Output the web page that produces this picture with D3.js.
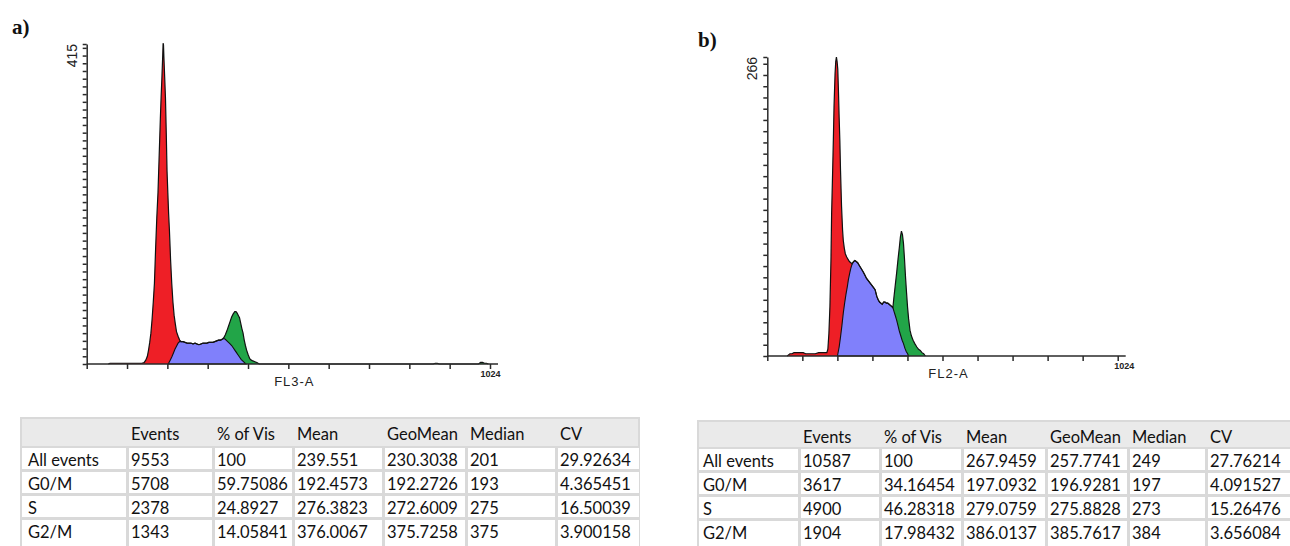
<!DOCTYPE html>
<html>
<head>
<meta charset="utf-8">
<script src="https://cdn.jsdelivr.net/npm/d3@7"></script>
<style>
  html, body { margin: 0; padding: 0; background: #fff; }
  svg { display: block; }
</style>
</head>
<body>
<script>
// ---------- Panel a: FL3-A histogram (channel, count) ----------
const channelsA = [55, 59, 80, 100, 120, 140, 146, 150, 154, 157, 160, 163, 166, 169, 172, 175, 178, 181, 184, 187, 189, 191, 193, 194, 195, 196, 198, 200, 202, 204, 206, 208, 210, 213, 216, 219, 222, 225, 228, 232, 236, 240, 245, 250, 255, 260, 265, 270, 275, 280, 285, 290, 295, 300, 305, 310, 315, 320, 325, 330, 335, 340, 344, 348, 352, 356, 360, 364, 368, 372, 376, 379, 382, 385, 388, 391, 394, 397, 400, 403, 406, 410, 414, 418, 422, 427, 432, 438, 880, 885, 890, 895, 995, 1000, 1005, 1010, 1015, 1020];
const countsA   = [0, 1, 1, 1, 1, 1, 2, 5, 10, 18, 28, 40, 58, 80, 105, 150, 190, 222, 270, 318, 347, 372, 400, 416, 414, 398, 372, 345, 300, 250, 222, 195, 174, 135, 104, 80, 63, 52, 42, 36, 31, 29, 29, 28, 27, 27, 27, 26, 27, 26, 25, 26, 27, 27, 27, 28, 28, 28, 29, 30, 31, 31, 32, 34, 38, 43, 49, 55, 61, 65, 68, 68, 66, 63, 60, 53, 46, 40, 31, 24, 18, 12, 7, 5, 4, 3, 2, 0, 0, 1, 1, 0, 0, 2, 2, 1, 1, 0];
// S-phase component
const sChannelsA = [207, 212, 216, 220, 224, 228, 232, 236, 240, 245, 250, 255, 260, 265, 270, 275, 280, 285, 290, 295, 300, 305, 310, 315, 320, 325, 330, 335, 340, 344, 348, 352, 356, 360, 364, 368, 372, 376, 380, 384, 388, 392, 396, 400, 404];
const sCountsA   = [0, 5, 9, 14, 19, 23, 27, 29, 29, 29, 28, 27, 27, 27, 26, 27, 26, 25, 26, 27, 27, 27, 28, 28, 28, 29, 30, 31, 31, 32, 33, 32, 30, 28, 26, 24, 21, 18, 15, 12, 9, 6, 4, 2, 0];
const gatesA = [240, 348];   // G0 ends / G2 begins (channel)
const maxA = 415;

// ---------- Panel b: FL2-A histogram ----------
const channelsB = [58, 62, 66, 72, 78, 85, 95, 105, 112, 120, 130, 140, 150, 160, 168, 174, 177, 180, 183, 186, 188, 191, 193, 195, 198, 200, 202, 204, 206, 208, 210, 212, 214, 217, 220, 222, 225, 228, 232, 236, 240, 244, 248, 252, 256, 260, 264, 268, 272, 276, 280, 285, 290, 295, 300, 305, 310, 315, 320, 324, 328, 332, 336, 340, 344, 348, 352, 356, 360, 364, 367, 370, 374, 378, 382, 386, 389, 392, 395, 398, 401, 404, 407, 410, 413, 417, 421, 426, 431, 437, 442, 447, 452, 457, 462];
const countsB   = [0, 1, 2, 2, 3, 3, 3, 3, 2, 2, 2, 2, 3, 3, 3, 3, 6, 20, 44, 85, 127, 165, 192, 222, 251, 262, 266, 262, 255, 235, 212, 192, 165, 133, 112, 103, 96, 91, 88, 86, 84, 83, 82, 84, 85, 84, 83, 81, 79, 77, 75, 72, 69, 67, 65, 63, 61, 59, 53, 50, 48, 47, 46, 48, 48, 47, 47, 46, 45, 44, 43, 52, 63, 74, 86, 97, 106, 111, 108, 100, 86, 70, 56, 43, 33, 23, 18, 14, 11, 8, 6, 5, 3, 2, 0];
const sChannelsB = [205, 210, 214, 218, 222, 226, 230, 234, 237, 241, 244, 248, 252, 256, 260, 264, 268, 272, 276, 280, 285, 290, 295, 300, 305, 310, 315, 320, 324, 328, 332, 336, 340, 344, 348, 352, 356, 360, 364, 367, 370, 374, 378, 382, 386, 390, 394, 398, 402, 406, 410, 413];
const sCountsB   = [0, 8, 17, 27, 38, 47, 55, 62, 68, 74, 78, 82, 84, 85, 84, 83, 81, 79, 77, 75, 72, 69, 67, 65, 63, 61, 59, 53, 50, 48, 47, 46, 48, 48, 47, 47, 46, 45, 44, 43, 40, 36, 32, 27, 22, 18, 14, 11, 7, 4, 2, 0];
const gatesB = [248, 367];
const maxB = 266;

// ---------- Statistics tables ----------
const statHeaders = ["", "Events", "% of Vis", "Mean", "GeoMean", "Median", "CV"];
const rowLabels = ["All events", "G0/M", "S", "G2/M"];
const statsA = [
  ["9553", "100", "239.551", "230.3038", "201", "29.92634"],
  ["5708", "59.75086", "192.4573", "192.2726", "193", "4.365451"],
  ["2378", "24.8927", "276.3823", "272.6009", "275", "16.50039"],
  ["1343", "14.05841", "376.0067", "375.7258", "375", "3.900158"]
];
const statsB = [
  ["10587", "100", "267.9459", "257.7741", "249", "27.76214"],
  ["3617", "34.16454", "197.0932", "196.9281", "197", "4.091527"],
  ["4900", "46.28318", "279.0759", "275.8828", "273", "15.26476"],
  ["1904", "17.98432", "386.0137", "385.7617", "384", "3.656084"]
];

const COLORS = { g0: "#ee1f26", s: "#8080fb", g2: "#22a548", line: "#111", axis: "#2a2a2a" };

const svg = d3.select("body").append("svg")
  .attr("width", 1290).attr("height", 546)
  .style("font-family", "'Liberation Sans', Arial, sans-serif");

function drawHistogram(cfg) {
  const g = svg.append("g");
  const x = d3.scaleLinear().domain([0, 1024]).range([cfg.x0, cfg.x1]);
  const y = d3.scaleLinear().domain([0, cfg.max]).range([cfg.yBase, cfg.yTop]);

  const hist = cfg.channels.map((c, i) => [c, cfg.counts[i]]);
  const sPhase = cfg.sChannels.map((c, i) => [c, cfg.sCounts[i]]);

  const area = d3.area().x(d => x(d[0])).y0(y(0)).y1(d => y(d[1]));
  const line = d3.line().x(d => x(d[0])).y(d => y(d[1]));

  // clip regions per gate
  const regions = [
    { id: cfg.id + "-g0", from: 0, to: cfg.gates[0], fill: COLORS.g0 },
    { id: cfg.id + "-s", from: cfg.gates[0], to: cfg.gates[1], fill: COLORS.s },
    { id: cfg.id + "-g2", from: cfg.gates[1], to: 1024, fill: COLORS.g2 }
  ];
  const defs = svg.append("defs");
  regions.forEach(r => {
    defs.append("clipPath").attr("id", r.id).append("rect")
      .attr("x", x(r.from)).attr("y", cfg.yTop - 5)
      .attr("width", x(r.to) - x(r.from)).attr("height", cfg.yBase - cfg.yTop + 5);
    g.append("path").datum(hist)
      .attr("d", area).attr("fill", r.fill)
      .attr("clip-path", `url(#${r.id})`);
  });

  // S-phase component over the G0 / G2 peaks
  g.append("path").datum(sPhase)
    .attr("d", area).attr("fill", COLORS.s)
    .attr("stroke", COLORS.line).attr("stroke-width", 1.1);

  // histogram outline
  g.append("path").datum(hist)
    .attr("d", line).attr("fill", "none")
    .attr("stroke", COLORS.line).attr("stroke-width", 1.2);

  // y axis: tick every 10 counts, top tick at maximum
  const yTicks = d3.range(0, cfg.max, 10).concat([cfg.max]);
  const yAxis = g.append("g").attr("transform", `translate(${cfg.x0},0)`)
    .call(d3.axisLeft(y).tickValues(yTicks).tickSize(4).tickSizeOuter(0).tickFormat(""));
  yAxis.selectAll("path, line").attr("stroke", COLORS.axis).attr("stroke-width", 1.5);

  // x axis: ten divisions over 1024 channels
  const xTicks = d3.range(11).map(i => i * 1024 / 10);
  const xAxis = g.append("g").attr("transform", `translate(0,${cfg.yBase})`)
    .call(d3.axisBottom(x).tickValues(xTicks).tickSize(5).tickSizeOuter(0)
      .tickFormat(d => d === 1024 ? "1024" : ""));
  xAxis.select(".domain").attr("d", `M${cfg.x0},0H${cfg.x1 + 8}`);
  xAxis.selectAll("path, line").attr("stroke", COLORS.axis).attr("stroke-width", 1.5);
  xAxis.selectAll("text")
    .attr("font-size", 9).attr("font-weight", "bold")
    .attr("font-family", "'Liberation Sans Narrow', 'Liberation Sans', sans-serif")
    .attr("fill", "#222").attr("dx", cfg.tickDx).attr("dy", "0.55em");

  // max count label
  g.append("text")
    .attr("transform", `translate(${cfg.x0 - 10},${cfg.yTop}) rotate(-90)`)
    .attr("text-anchor", "end").attr("font-size", 14).attr("fill", "#222")
    .text(cfg.max);

  // parameter label
  g.append("text")
    .attr("x", (cfg.x0 + cfg.x1) / 2 + 6).attr("y", cfg.yBase + 22)
    .attr("text-anchor", "middle").attr("font-size", 13).attr("fill", "#222")
    .attr("letter-spacing", 1)
    .text(cfg.param);

  // panel letter
  svg.append("text")
    .attr("x", cfg.letterX).attr("y", cfg.letterY)
    .attr("font-family", "'Liberation Serif', 'DejaVu Serif', serif")
    .attr("font-weight", "bold").attr("font-size", 21).attr("fill", "#111")
    .text(cfg.letter);
}

drawHistogram({
  id: "pa", x0: 86.7, x1: 490, yBase: 364, yTop: 44, max: maxA,
  channels: channelsA, counts: countsA, sChannels: sChannelsA, sCounts: sCountsA,
  gates: gatesA, param: "FL3-A", letter: "a)", letterX: 12, letterY: 34, tickDx: 0
});
drawHistogram({
  id: "pb", x0: 767.3, x1: 1117.7, yBase: 356, yTop: 57, max: maxB,
  channels: channelsB, counts: countsB, sChannels: sChannelsB, sCounts: sCountsB,
  gates: gatesB, param: "FL2-A", letter: "b)", letterX: 698, letterY: 47, tickDx: 6
});

function drawTable(cfg) {
  const g = svg.append("g").style("font-family", "Lato, 'Open Sans', sans-serif");
  const edges = cfg.colEdges;
  const rowTops = cfg.rowTops;
  const right = edges[edges.length - 1];
  const bottom = rowTops[rowTops.length - 1];

  g.append("rect").attr("x", edges[0]).attr("y", cfg.top)
    .attr("width", right - edges[0]).attr("height", bottom - cfg.top)
    .attr("fill", "#d9d9d9");
  g.append("rect").attr("x", edges[0] + 2).attr("y", cfg.top + 2)
    .attr("width", right - edges[0] - 4).attr("height", rowTops[0] - cfg.top - 3)
    .attr("fill", "#eaeaea");

  // header labels
  statHeaders.forEach((h, j) => {
    if (!h) return;
    g.append("text").attr("x", edges[j] + cfg.pad).attr("y", cfg.top + 23)
      .attr("font-size", 16.5).attr("fill", "#111").text(h);
  });

  // data rows
  rowLabels.forEach((label, i) => {
    const y0 = rowTops[i], y1 = rowTops[i + 1];
    const cells = [label].concat(cfg.stats[i]);
    cells.forEach((v, j) => {
      g.append("rect")
        .attr("x", edges[j] + 2).attr("y", y0 + 1)
        .attr("width", edges[j + 1] - edges[j] - 3).attr("height", y1 - y0 - 3)
        .attr("fill", "#fff");
      g.append("text")
        .attr("x", edges[j] + (j === 0 ? cfg.labelPad : cfg.pad)).attr("y", y0 + 19)
        .attr("font-size", 16.5).attr("fill", "#111").text(v);
    });
  });
}

drawTable({
  top: 417, colEdges: [20, 127, 213, 293, 383, 466, 556, 640],
  rowTops: [447, 471, 495, 519, 548], pad: 4, labelPad: 8, stats: statsA
});
drawTable({
  top: 420, colEdges: [697, 799, 880, 962, 1046, 1128, 1206, 1292],
  rowTops: [448, 472, 496, 520, 548], pad: 4, labelPad: 6, stats: statsB
});
</script>
</body>
</html>
